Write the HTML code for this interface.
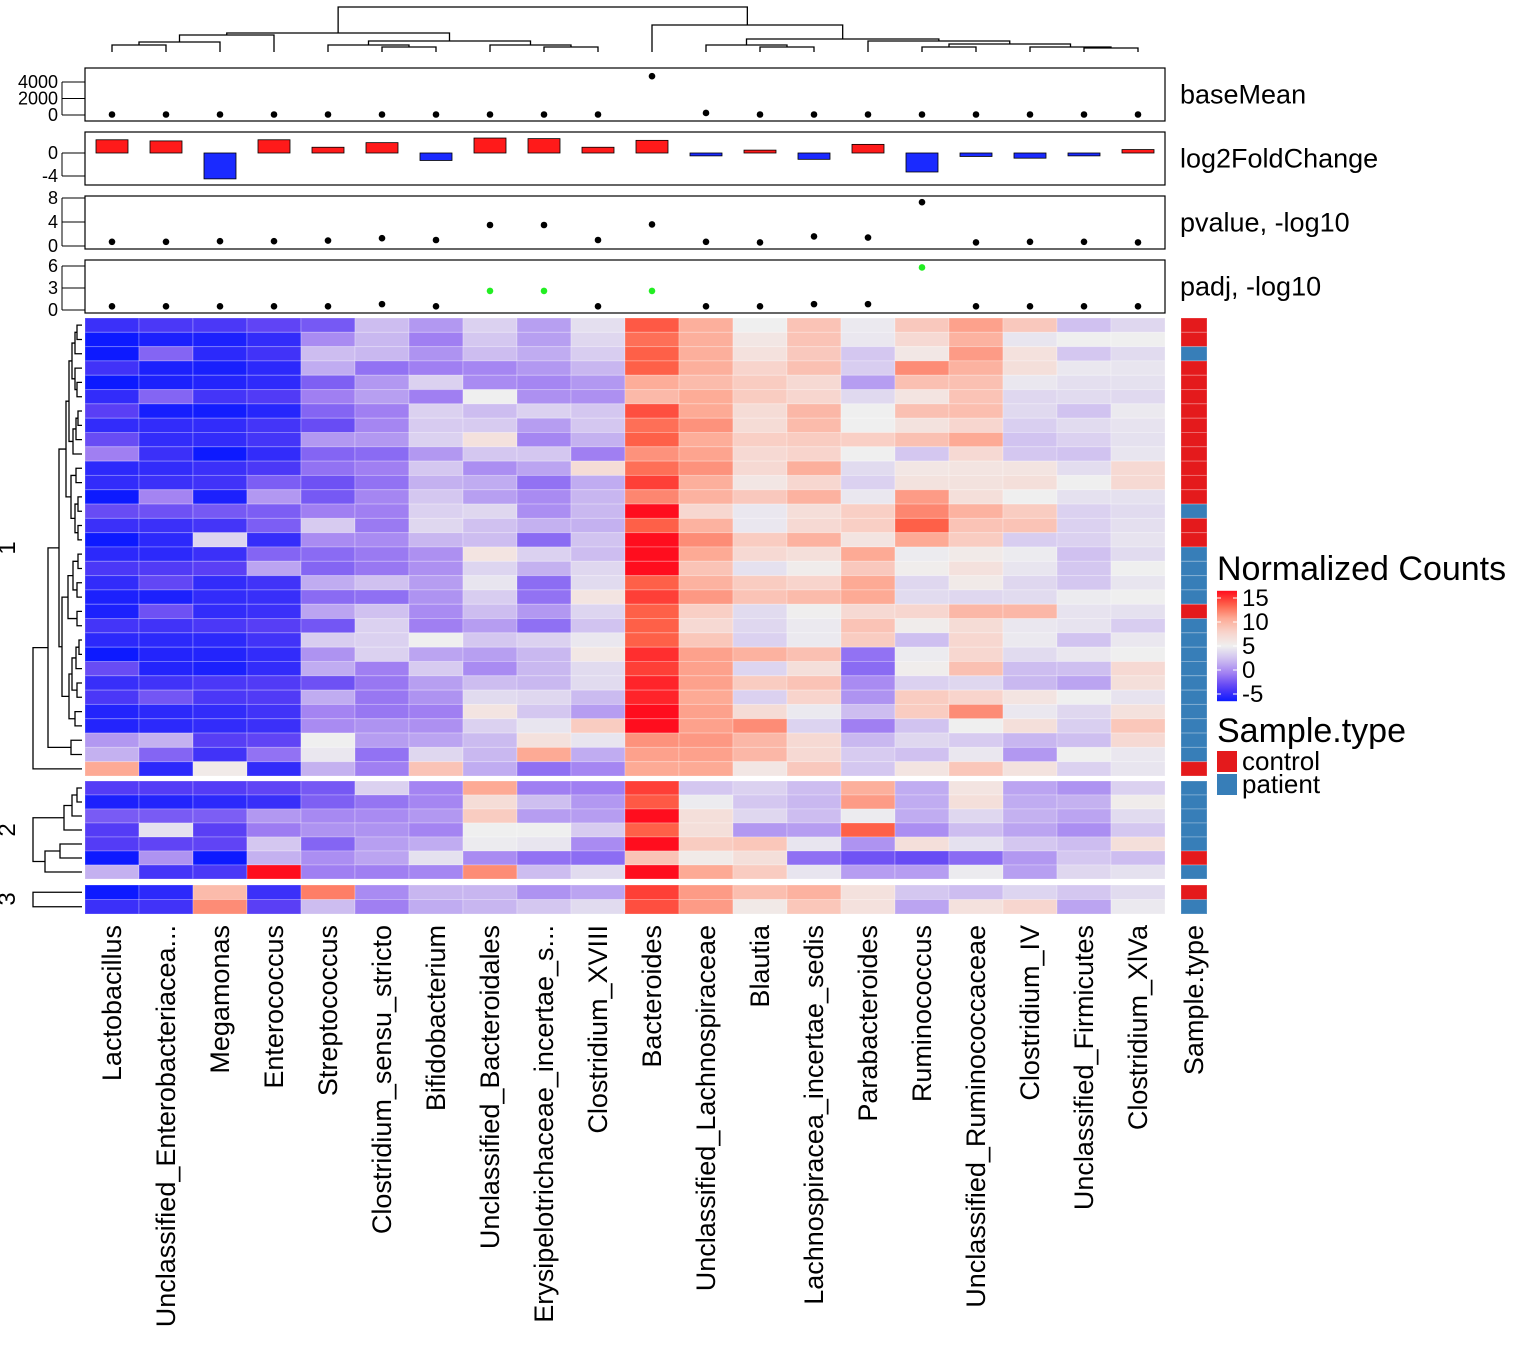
<!DOCTYPE html>
<html><head><meta charset="utf-8"><style>
html,body{margin:0;padding:0;background:#fff;}
svg{display:block;font-family:"Liberation Sans",Arial,sans-serif;}
</style></head><body>
<svg id="c" width="1534" height="1358" viewBox="0 0 1534 1358"></svg>
<script>
const genera = ["Lactobacillus","Unclassified_Enterobacteriacea...","Megamonas","Enterococcus","Streptococcus","Clostridium_sensu_stricto","Bifidobacterium","Unclassified_Bacteroidales","Erysipelotrichaceae_incertae_s...","Clostridium_XVIII","Bacteroides","Unclassified_Lachnospiraceae","Blautia","Lachnospiracea_incertae_sedis","Parabacteroides","Ruminococcus","Unclassified_Ruminococcaceae","Clostridium_IV","Unclassified_Firmicutes","Clostridium_XlVa"];
const baseMean = [60,60,60,60,60,60,60,60,60,60,4700,250,60,60,60,60,60,60,60,60];
const log2FC = [2.3,2.1,-4.5,2.3,1.0,1.8,-1.3,2.6,2.5,1.0,2.2,-0.5,0.5,-1.1,1.5,-3.3,-0.6,-0.9,-0.5,0.6];
const pvalLog = [0.7,0.7,0.8,0.8,0.9,1.3,1.0,3.5,3.5,1.0,3.6,0.7,0.6,1.6,1.4,7.3,0.6,0.7,0.7,0.6];
const padjLog = [0.5,0.5,0.5,0.5,0.5,0.8,0.5,2.6,2.6,0.5,2.6,0.5,0.5,0.8,0.8,5.8,0.5,0.5,0.5,0.5];
const padjSig = [0,0,0,0,0,0,0,1,1,0,1,0,0,0,0,1,0,0,0,0];
const cluster1 = [
[-3.5,-3,-3,-2.3,-1.5,2.5,1,3.5,1.3,4.2,12.7,9.7,5,8.5,4.7,8.2,10.3,8.2,2.7,3.8],
[-5,-4.5,-4.5,-3.8,0.5,2.3,0,3,1.3,3.8,12,9.7,5.8,8.5,4.6,7,9.5,4.5,5,5],
[-5,-1,-4,-3.3,2.5,2.3,0.8,2.5,1.8,3.3,12.5,9.7,6.3,8.2,3,5.7,10.5,6.3,3,4],
[-3.3,-4.5,-4.6,-4,1.8,-0.5,0,0.3,1,2.2,12.5,9.7,7.5,8.7,3.3,11,9.5,6.5,4.6,4.5],
[-5,-4.5,-4.3,-3.9,-1.2,1,3.5,0.5,0.3,1,9.8,9,8,7,1.2,8.7,8.7,4.6,4.2,4.3],
[-3.8,-1,-3.2,-2.8,0,1.3,0,5,0.7,0.7,9.1,9.9,8,7.3,3.9,6,8.5,3.8,4,3.9],
[-2.5,-4.7,-4.8,-4.2,-1,0,3.5,2.5,3.5,3,13,10,6.8,9.2,5,8.7,8.8,3.9,2.8,4.7],
[-3.8,-3.8,-3.8,-3.2,-2,0.3,3.2,3.2,1.2,3,12,10.8,6.8,9,5,6.2,7.3,3.4,4,4.4],
[-2,-3.8,-3.8,-3.2,1,1,3.5,6.3,0.3,2,12.5,9.8,7.8,8,7.8,8.7,10,2.8,3.5,4.3],
[0,-3.5,-5,-3.8,-1,-0.8,1,3,3,0,10.8,10.2,7,7.5,5,3,7,3,2.8,4.5],
[-4,-3.8,-3.5,-3,-0.5,0,3,0.6,1.5,6.8,12,10.8,7,9.7,4,5.8,6,6,4.1,7],
[-3.8,-3.5,-3.3,-1.3,-1.8,-0.5,2,1.8,-0.5,1.8,13.5,9.7,5.8,7.2,3.5,6.2,6.2,6.5,5,7],
[-5,0.2,-4.5,1,-1.5,0.3,3,1.3,0.5,2.2,11.2,9.5,8.2,9.5,4.6,10.5,6.5,5,4.3,4.3],
[-2,-1.8,-1.5,-1.3,0,0,3.5,3.8,0.6,2.3,15,7.2,4.6,6.6,7.8,11.2,9.5,8,3.5,4],
[-3.5,-3.5,-3.2,-1.3,3.2,-0.2,3.8,2.7,2,2,12.5,9.5,4.6,7,7.8,12.5,8.5,8.5,3.5,4.2],
[-5,-4,3.7,-3.7,0.5,0.5,2.2,2.5,-0.8,2.8,15,11,8,9.5,6,10,8,3.3,3.5,4.4],
[-4,-4,-3.5,-1,-0.8,-0.2,0.7,6,3.5,2.5,15,10,7,6.5,10,4.8,5.5,4.8,2.7,4],
[-3,-2.8,-2.5,1.5,-1,-0.3,0.7,3.7,2,3.8,15,8.5,4.3,5.3,8.2,5.2,6.3,4.5,3,5],
[-3.8,-2.2,-3.8,-3.3,1.8,2.7,1.2,4.5,-0.7,4,12.5,9.5,8,7.5,10,3.8,5.5,3.8,3,4.5],
[-4.5,-4.5,-3.8,-3.6,-0.8,-0.6,0.8,3.3,-0.5,6,13.5,10.6,8.5,9,10,4,3.8,4,4.8,5],
[-4.5,-1.8,-3.8,-3.5,1.5,2.7,0.5,2.5,1,3.7,12.5,7.8,4,5.1,7,7.3,9.2,9.2,4.4,4.3],
[-3.2,-3.3,-3,-2.6,-1.6,3.5,0,1.2,-0.6,2.8,12.5,7,3.8,4.7,8.5,5.3,6.8,4.6,4.4,3.3],
[-4,-4,-4,-3.3,3.3,3.5,5,3,3.5,4.6,12.5,8.3,3.5,4.7,8,2.6,7.2,4.7,2.8,4.6],
[-5,-4.3,-4.3,-3.8,0.8,3.5,1.5,1.3,2.3,5.7,14,10.3,9.5,8.7,-0.5,4.8,7.2,4,4.6,5],
[-2,-4.3,-4.5,-3.8,1.8,0,3.2,0.5,2.3,4,13.5,10.3,3.7,6.5,-0.8,5.2,8.7,2.5,2.6,7],
[-3.6,-3.3,-3,-2.8,-1.8,-0.3,1.3,2.5,2.3,4,14.3,10.3,8,8.5,0.5,3.5,3.8,2.3,1.5,6.5],
[-3,-1.6,-3,-2.8,1.8,-0.3,0.8,4,3.8,2.4,14.3,10,3.5,7.5,0.8,8,7.5,6,5,4.4],
[-4.3,-4,-3.8,-3.3,0.2,-0.3,0,6,3,1.2,15,10.3,6.8,4.7,2.5,8,11,4.6,3.8,6.3],
[-4.3,-4,-3.8,-3.5,0.5,0.8,0.7,3.5,4.5,8,15,10.3,11,3.6,0,2.8,5,6.5,3.4,8.3],
[1,2,-2.6,-2.3,5,1.2,1.5,2.4,6.3,4.5,10.8,10.6,9.2,7,2.3,3.8,3.2,2.2,2.6,7],
[2,-1,-3.3,-0.5,4.6,-0.5,3.8,2.3,10,1.8,10.3,10.3,9.2,7,3.2,2.7,4.6,1,5,4.6],
[10,-4,5.5,-3.8,2,0,8.5,1.8,-0.6,0.3,10,10,5.8,8.2,3,6,8.3,6.2,3.5,4.5]];
const cluster2 = [
[-2.7,-2.7,-2.7,-2.3,-1.5,3.5,0.2,10,0,0,13.5,3,3.5,2.5,9.7,1.8,6,1.5,0.8,3.5],
[-4.5,-4.3,-4,-3.6,-1.2,-0.4,0.3,6.7,2.6,1,12.7,4.8,3,2.3,10.5,1.8,6.5,1.8,2,5.3],
[-1.4,-1.4,-1.3,1,0.4,0.5,1,8,1.2,1.2,15,6.5,3.8,2.5,4.8,1.8,3.8,2,1.5,4],
[-2.7,4.3,-2.5,-0.1,0.8,0.8,0.2,5,5,3.2,12.5,6.5,1,1.2,12.5,0.6,2.5,1.5,0.6,3],
[-2.7,-2.3,-2.3,3,-1,1.3,1.8,4.8,4.5,0.5,15,8,8.3,4.5,0.8,6.5,4.3,3,2.5,6.5],
[-5,0.8,-5,2,0.6,1.5,4.3,0.5,-0.5,-0.7,8.5,5.5,6.5,-0.6,-1.7,-2,-0.8,1,3,2.5],
[2,-3.2,-3,15,0,0,0.3,11,2.5,4,15,10,8,4.5,1.2,1.2,4.8,1.3,3.8,4.3]];
const cluster3 = [
[-5,-4,9,-3.5,11.5,0.5,2.2,2.2,0.8,1.5,13.5,10.5,8.8,9.5,6.3,3,2.5,3.7,3,4],
[-3.5,-3.3,11,-2.5,2.5,0,1.8,2.2,3,4,13,10.5,5.6,8.3,6.3,1.5,6.3,7.3,1.5,4.7]];
const sampleType1 = "CCPCCCCCCCCCCPCCPPPPCPPPPPPPPPPC";
const sampleType2 = "PPPPPCP";
const sampleType3 = "CP";
const legendTicks = [15,10,5,0,-5];
const baseTicks = [0,2000,4000];
const fcTicks = [0,-4];
const pTicks = [0,4,8];
const padjTicks = [0,3,6];

const NS="http://www.w3.org/2000/svg";
const svg=document.getElementById('c');
function mk(tag,attrs,parent){const e=document.createElementNS(NS,tag);for(const k in attrs)e.setAttribute(k,attrs[k]);(parent||svg).appendChild(e);return e;}
const stops=[[-5,[13,26,255]],[-2.5,[90,63,245]],[0,[160,127,242]],[2.5,[205,189,240]],[5,[239,239,239]],[7.5,[248,212,204]],[10,[253,170,149]],[12.5,[254,96,72]],[15,[255,13,30]]];
function col(v){v=Math.max(-5,Math.min(15,v));for(let i=0;i<stops.length-1;i++){const a=stops[i],b=stops[i+1];if(v<=b[0]){const t=(v-a[0])/(b[0]-a[0]);return 'rgb('+a[1].map((c,j)=>Math.round(c+(b[1][j]-c)*t)).join(',')+')';}}return 'rgb(255,13,30)';}

const X0=85,CW=54;
const xc=i=>X0+CW*i+CW/2;

const groups=[{d:cluster1,s:sampleType1,y0:318,h:458/32},{d:cluster2,s:sampleType2,y0:781,h:98/7},{d:cluster3,s:sampleType3,y0:885,h:29/2}];
const hm=mk('g',{});


groups.forEach((g,gi)=>{
  g.d.forEach((row,r)=>{
    row.forEach((v,c)=>{
      const rc=mk('rect',{x:X0+CW*c,y:g.y0+g.h*r,width:CW,height:g.h,fill:col(v),stroke:'rgba(255,255,255,0.25)','stroke-width':1},hm);
      
      
    });
    const st=mk('rect',{x:1181,y:g.y0+g.h*r,width:26,height:g.h,fill:g.s[r]==='C'?'#e41a1c':'#377eb8',stroke:'rgba(255,255,255,0.25)','stroke-width':1});
    
    
  });
});

genera.forEach((n,i)=>{
  const t=mk('text',{x:0,y:0,'font-size':27,'text-anchor':'end',transform:`translate(${xc(i)+9},925) rotate(-90)`});
  t.textContent=n;
  
  
});
{const t=mk('text',{'font-size':27,'text-anchor':'end',transform:'translate(1203,925) rotate(-90)'});t.textContent='Sample.type';

}

function panel(name,label,y0,y1,ticks,scale,draw){
  const g=mk('g',{});
  
  
  mk('rect',{x:X0,y:y0,width:1080,height:y1-y0,fill:'none',stroke:'#000','stroke-width':1.2},g);
  ticks.forEach(t=>{const y=scale(t);mk('line',{x1:62,x2:85,y1:y,y2:y,stroke:'#000','stroke-width':1},g);
    const tx=mk('text',{x:58,y:y+6,'font-size':18,'text-anchor':'end'},g);tx.textContent=t;
    
    });
  mk('line',{x1:62,x2:62,y1:scale(ticks[0]),y2:scale(ticks[ticks.length-1]),stroke:'#000'},g);
  const l=mk('text',{x:1180,y:(y0+y1)/2+9,'font-size':27},g);l.textContent=label;
  
  
  draw(g);
}
const sBase=v=>115-v*(33/4000);
panel('basemean-panel','baseMean',68,121,baseTicks,sBase,g=>{baseMean.forEach((v,i)=>{const d=mk('circle',{cx:xc(i),cy:sBase(v),r:3.3,fill:'#000'},g);
  
  });});
const sFC=v=>153-v*5.75;
panel('log2fc-panel','log2FoldChange',132,185,fcTicks,sFC,g=>{log2FC.forEach((v,i)=>{const y=Math.min(sFC(v),sFC(0));const b=mk('rect',{x:xc(i)-16,y:y,width:32,height:Math.abs(sFC(v)-sFC(0)),fill:v>=0?'#ff1a1a':'#1a2aff',stroke:'#000','stroke-width':0.8},g);
  
  });});
const sP=v=>246-v*6;
panel('pvalue-panel','pvalue, -log10',196,249,pTicks,sP,g=>{pvalLog.forEach((v,i)=>{const d=mk('circle',{cx:xc(i),cy:sP(v),r:3.3,fill:'#000'},g);
  
  });});
const sA=v=>310-v*(44/6);
panel('padj-panel','padj, -log10',260,313,padjTicks,sA,g=>{padjLog.forEach((v,i)=>{const d=mk('circle',{cx:xc(i),cy:sA(v),r:3.3,fill:padjSig[i]?'#22ee22':'#000'},g);
  
  });});

const dg=mk('g',{stroke:'#000','stroke-width':1.3,fill:'none'});


const topTree=[7,
  [33,[35,[42,[45,0,1],2],3],[41,[45,4,[47,5,6]],[45,7,[47,8,9]]]],
  [25,10,[39,[45,11,[47,12,13]],[41,14,[44,[47,15,16],[47,17,[48,18,19]]]]]]];
function drawTop(n){if(typeof n==='number')return{x:xc(n),y:52};
  const a=drawTop(n[1]),b=drawTop(n[2]),y=n[0];
  mk('path',{d:`M${a.x},${a.y}V${y}H${b.x}V${b.y}`},dg);return{x:(a.x+b.x)/2,y:y};}
drawTop(topTree);

const lg=mk('g',{stroke:'#000','stroke-width':1.3,fill:'none'});


const t1=[66,[69,[72,[75,[77,0,1],2],[75,3,[77,4,5]]],[73,[76,[78,6,7],8],9]],[71,[76,10,11],[75,[78,12,13],[78,14,15]]]];
const t2=[62,[68,[73,[78,16,17],[77,18,19]],[77,20,21]],[69,[72,[76,[79,22,23],24],[77,25,26]],[75,27,28]]];
const leftTrees=[[33,[48,[59,t1,t2],[71,29,30]],31],[33,[64,[72,[77,0,1],2],3],[45,[60,4,5],6]],[33,0,1]];
function drawLeft(n,g){if(typeof n==='number')return{y:g.y0+g.h*(n+0.5),x:82};
  const a=drawLeft(n[1],g),b=drawLeft(n[2],g),x=n[0];
  mk('path',{d:`M${a.x},${a.y}H${x}V${b.y}H${b.x}`},lg);return{x:x,y:(a.y+b.y)/2};}
leftTrees.forEach((t,i)=>drawLeft(t,groups[i]));
[['1',548],['2',830],['3',899]].forEach(([s,y])=>{const t=mk('text',{'font-size':24,'text-anchor':'middle',transform:`translate(15,${y}) rotate(-90)`});t.textContent=s;
  
  });

const lgd=mk('g',{});


const lt=mk('text',{x:1217,y:580,'font-size':34},lgd);lt.textContent='Normalized Counts';
const defs=mk('defs',{});const grad=mk('linearGradient',{id:'gr',x1:0,y1:0,x2:0,y2:1},defs);
for(let i=0;i<=20;i++){const v=15-i;mk('stop',{offset:(i/20),'stop-color':col(v)},grad);}
const ly=v=>598+(15-v)*4.8;
mk('rect',{x:1217,y:ly(16.5),width:20,height:ly(-6.5)-ly(16.5),fill:'url(#gr)'},lgd);
legendTicks.forEach(v=>{mk('line',{x1:1217,x2:1221,y1:ly(v),y2:ly(v),stroke:'#fff'},lgd);mk('line',{x1:1233,x2:1237,y1:ly(v),y2:ly(v),stroke:'#fff'},lgd);
  const t=mk('text',{x:1242,y:ly(v)+8,'font-size':24},lgd);t.textContent=v;
  
  });
const st=mk('text',{x:1217,y:742,'font-size':34},lgd);st.textContent='Sample.type';
[['control','#e41a1c',751],['patient','#377eb8',774]].forEach(([n,c,y])=>{const r=mk('rect',{x:1217,y:y,width:20,height:21,fill:c},lgd);
  
  
  const t=mk('text',{x:1242,y:y+19,'font-size':26},lgd);t.textContent=n;
  
  });
</script>
</body></html>
